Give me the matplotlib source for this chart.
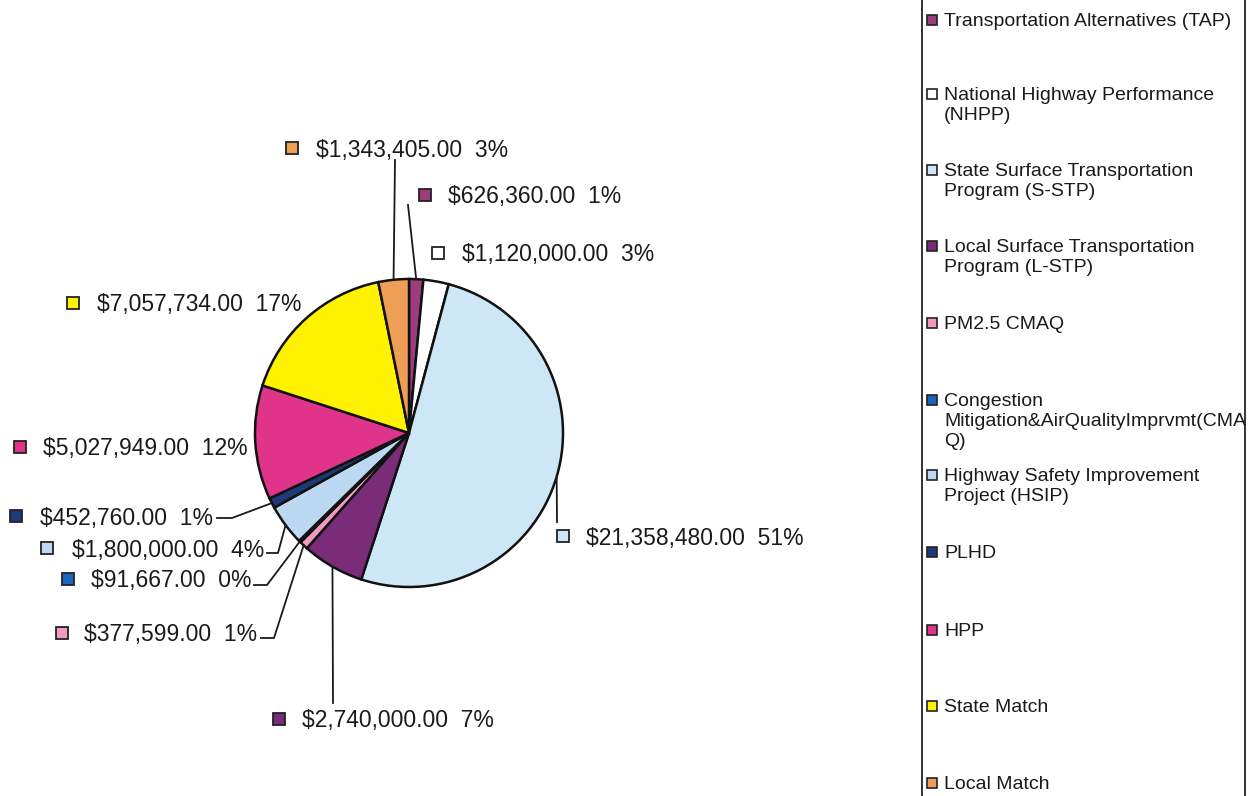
import numpy as np
import matplotlib
matplotlib.use('Agg')
import matplotlib.pyplot as plt
from matplotlib.patches import Rectangle

plt.rcParams['font.family'] = ['Liberation Sans', 'DejaVu Sans']

# funding sources, in the order the slices run clockwise from the top
sources = ['Transportation Alternatives (TAP)',
           'National Highway Performance\n(NHPP)',
           'State Surface Transportation\nProgram (S-STP)',
           'Local Surface Transportation\nProgram (L-STP)',
           'PM2.5 CMAQ',
           'Congestion\nMitigation&AirQualityImprvmt(CMA\nQ)',
           'Highway Safety Improvement\nProject (HSIP)',
           'PLHD',
           'HPP',
           'State Match',
           'Local Match']
amounts = [626360.00, 1120000.00, 21358480.00, 2740000.00, 377599.00, 91667.00,
           1800000.00, 452760.00, 5027949.00, 7057734.00, 1343405.00]
colors = ['#9E3D7E', '#FFFFFF', '#CDE7F7', '#7A2C78', '#F49AC1', '#1767C2',
          '#BCD8F2', '#1F3A78', '#E0338A', '#FFF200', '#EE9E55']

W, H = 1251, 796
fig = plt.figure(figsize=(W / 100, H / 100), dpi=100)
ax = fig.add_axes([0, 0, 1, 1])


def Y(y):
    # pixel row (from top) -> axes y
    return H - y


center = (409, Y(433))
R = 154
wedges, _ = ax.pie(amounts, colors=colors, startangle=90, counterclock=False,
                   center=center, radius=R,
                   wedgeprops=dict(edgecolor='#111111', linewidth=1.8))
ax.set_xlim(0, W)
ax.set_ylim(0, H)
ax.set_aspect('equal')
ax.axis('off')

total = sum(amounts)

# label layout: marker centre, text left, leader path (label end) in pixels
label_pos = [
    dict(m=(425, 195), t=448, lead=[(408, 205)]),
    dict(m=(438, 253), t=462, lead=None),
    dict(m=(563, 536), t=586, lead=[(557, 522)]),
    dict(m=(279, 719), t=302, lead=[(333, 703)]),
    dict(m=(62, 633), t=84, lead=[(261, 638), (274, 638)]),
    dict(m=(68, 579), t=91, lead=[(254, 585), (267, 585)]),
    dict(m=(47, 548), t=72, lead=[(267, 553), (278, 553)]),
    dict(m=(16, 516), t=40, lead=[(217, 518), (232, 518)]),
    dict(m=(20, 447), t=43, lead=None),
    dict(m=(73, 303), t=97, lead=None),
    dict(m=(292, 148), t=316, lead=[(395, 160)]),
]

for w, amt, col, pos in zip(wedges, amounts, colors, label_pos):
    mx, my = pos['m']
    ax.plot(mx, Y(my), marker='s', markersize=8, color=col,
            markeredgecolor='#222222', markeredgewidth=1.3)
    ax.text(pos['t'], Y(my + 8.5), f'${amt:,.2f}  {round(amt / total * 100):.0f}%',
            fontsize=16.5, color='#1a1a1a', va='baseline', ha='left')
    if pos['lead']:
        mid = np.deg2rad((w.theta1 + w.theta2) / 2)
        ex = center[0] + R * np.cos(mid)
        ey = center[1] + R * np.sin(mid)
        pts = [(x, Y(y)) for x, y in pos['lead']] + [(ex, ey)]
        xs, ys = zip(*pts)
        ax.plot(xs, ys, color='#1a1a1a', linewidth=1.3)

# legend box drawn at the right
ax.add_patch(Rectangle((922, Y(800)), 1245 - 922, 802, fill=False,
                       edgecolor='#222222', linewidth=1.3))
legend_rows = [20, 94, 170, 246, 323, 400, 475, 552, 630, 706, 783]
for name, col, ry in zip(sources, colors, legend_rows):
    ax.plot(932, Y(ry), marker='s', markersize=6.5, color=col,
            markeredgecolor='#222222', markeredgewidth=1.2)
    ax.text(944, Y(ry - 7), name, fontsize=14, color='#1a1a1a',
            va='top', ha='left', linespacing=1.23)

fig.savefig('out.png', dpi=100)
